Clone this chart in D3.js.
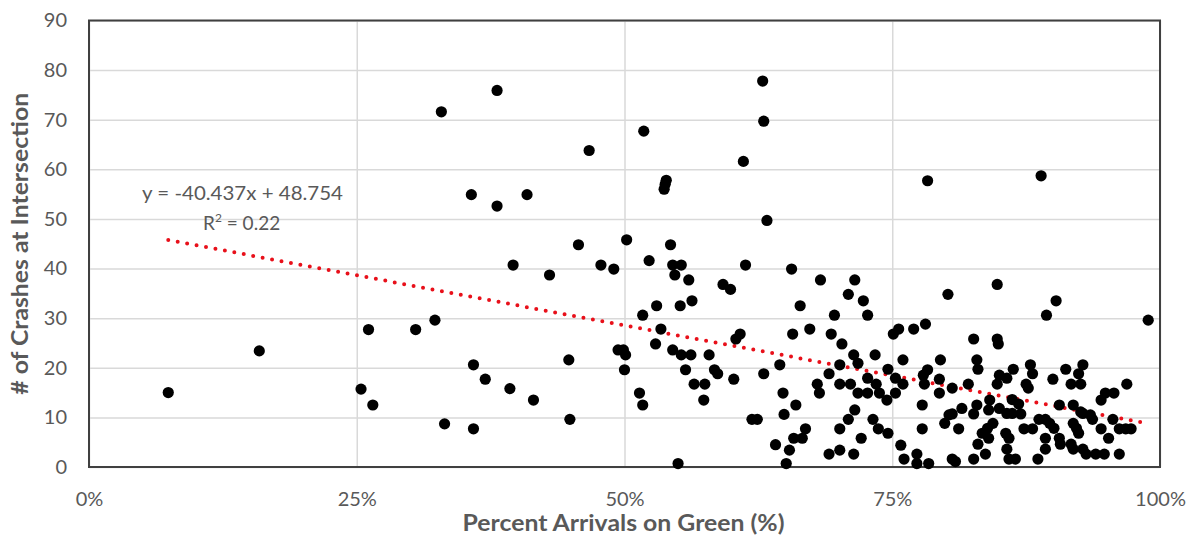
<!DOCTYPE html>
<html>
<head>
<meta charset="utf-8">
<script src="https://cdn.jsdelivr.net/npm/d3@7"></script>
<style>
  body { margin: 0; background: #fff; }
  text { font-family: Lato, "Open Sans", sans-serif; }
</style>
</head>
<body>
<script>
// percent arrivals on green (fraction) and crashes
const pctGreen = [
  0.074, 0.159, 0.261, 0.254, 0.265, 0.305, 0.323, 0.329, 0.332, 0.357,
  0.359, 0.359, 0.370, 0.381, 0.381, 0.393, 0.396, 0.409, 0.415, 0.430,
  0.448, 0.449, 0.457, 0.467, 0.478, 0.490, 0.494, 0.499, 0.501, 0.500,
  0.502, 0.514, 0.517, 0.517, 0.518, 0.523, 0.529, 0.530, 0.534, 0.537,
  0.538, 0.539, 0.543, 0.545, 0.545, 0.547, 0.550, 0.552, 0.553, 0.553,
  0.557, 0.560, 0.562, 0.563, 0.565, 0.574, 0.575, 0.579, 0.584, 0.587,
  0.592, 0.599, 0.602, 0.604, 0.608, 0.611, 0.613, 0.619, 0.624, 0.629,
  0.630, 0.630, 0.633, 0.641, 0.645, 0.648, 0.649, 0.651, 0.654, 0.656,
  0.657, 0.658, 0.660, 0.664, 0.666, 0.669,
  0.683, 0.715, 0.848, 0.709, 0.723, 0.802, 0.903, 0.696, 0.727, 0.894,
  0.989, 0.673, 0.693, 0.703, 0.751, 0.756, 0.770, 0.781, 0.783, 0.889,
  0.826, 0.848, 0.849, 0.714, 0.734, 0.718, 0.701, 0.691, 0.680, 0.682,
  0.701, 0.711, 0.727, 0.735, 0.718, 0.727, 0.738, 0.745, 0.746, 0.753,
  0.760, 0.760, 0.753, 0.779, 0.783, 0.780, 0.795, 0.794, 0.794, 0.806,
  0.821, 0.829, 0.830, 0.848, 0.850, 0.857, 0.863, 0.875, 0.877, 0.879,
  0.881, 0.900, 0.912, 0.917, 0.924, 0.926, 0.928, 0.945, 0.949, 0.957,
  0.969,
  0.691, 0.701, 0.701, 0.709, 0.715, 0.721, 0.714, 0.732, 0.737, 0.746,
  0.758, 0.761, 0.773, 0.773, 0.784, 0.778, 0.778, 0.799, 0.803, 0.806,
  0.812, 0.815, 0.806, 0.809, 0.826, 0.826, 0.829, 0.830, 0.837, 0.834,
  0.839, 0.840, 0.844, 0.841, 0.840, 0.850, 0.857, 0.862, 0.862, 0.868,
  0.870, 0.856, 0.859, 0.857, 0.859, 0.865, 0.873, 0.881, 0.886, 0.887,
  0.893, 0.897, 0.901, 0.893, 0.893, 0.906, 0.907, 0.906, 0.919, 0.919,
  0.922, 0.917, 0.919, 0.928, 0.931, 0.940, 0.948, 0.962, 0.924, 0.926,
  0.928, 0.935, 0.937, 0.945, 0.952, 0.956, 0.962, 0.968, 0.973
];
const crashes = [
  15, 23.4, 27.7, 15.7, 12.5, 27.7, 29.6, 71.6, 8.7, 54.9,
  20.6, 7.7, 17.7, 75.9, 52.6, 15.8, 40.7, 54.9, 13.5, 38.7,
  21.6, 9.6, 44.8, 63.8, 40.7, 39.9, 23.6, 23.6, 22.6, 19.6,
  45.8, 14.9, 12.5, 30.6, 67.7, 41.6, 24.8, 32.5, 27.8, 56.0,
  57.0, 57.8, 44.8, 40.7, 23.6, 38.7, 0.7, 32.5, 40.7, 22.6,
  19.6, 37.7, 22.6, 33.5, 16.7, 13.5, 16.7, 22.6, 19.6, 18.8,
  36.8, 35.8, 17.7, 25.8, 26.8, 61.6, 40.7, 9.6, 9.6, 77.8,
  69.7, 18.8, 49.7, 4.5, 20.6, 14.9, 10.6, 0.7, 3.4, 39.9,
  26.8, 5.8, 12.5, 32.5, 5.8, 7.7,
  37.7, 37.7, 36.8, 34.8, 33.5, 34.8, 33.5, 30.6, 30.6, 30.6,
  29.6, 27.8, 26.8, 24.8, 26.8, 27.8, 27.8, 28.8, 57.7, 58.7,
  25.8, 25.8, 24.8, 22.6, 22.6, 20.9, 20.6, 18.8, 16.7, 14.9,
  16.7, 16.7, 17.9, 16.7, 14.9, 14.9, 14.9, 13.5, 19.7, 17.9,
  21.6, 16.7, 14.9, 18.5, 19.6, 16.7, 21.6, 17.7, 14.9, 15.9,
  16.7, 21.6, 19.7, 16.7, 18.5, 17.9, 19.7, 16.7, 15.9, 20.6,
  18.8, 17.7, 19.7, 16.7, 18.8, 16.7, 20.6, 13.5, 14.9, 14.9,
  16.7,
  2.6, 3.4, 7.7, 9.6, 11.5, 5.8, 2.6, 9.6, 7.7, 6.8,
  4.4, 1.6, 2.6, 0.7, 0.7, 12.5, 7.7, 8.8, 10.5, 10.7,
  7.7, 11.8, 1.6, 1.1, 1.6, 10.7, 12.5, 4.6, 2.6, 6.8,
  7.8, 5.8, 8.8, 13.5, 11.5, 11.8, 10.8, 10.8, 13.6, 12.7,
  10.7, 6.8, 5.8, 3.6, 1.6, 1.6, 7.7, 7.7, 1.6, 9.6,
  9.6, 8.8, 7.8, 5.8, 3.6, 5.8, 4.6, 12.5, 12.5, 8.8,
  7.8, 4.6, 3.6, 3.6, 2.6, 2.6, 2.6, 2.6, 6.8, 11.1,
  10.8, 10.5, 9.6, 7.7, 5.8, 9.6, 7.7, 7.7, 7.7
];
const xTicks = [0, 0.25, 0.5, 0.75, 1];
const yTicks = [0, 10, 20, 30, 40, 50, 60, 70, 80, 90];
const trendSlope = -40.437;
const trendIntercept = 48.754;
const trendR2 = 0.22;

const width = 1193, height = 539;
const margin = { top: 20.5, right: 33, bottom: 72, left: 89 };
const innerW = width - margin.left - margin.right;
const innerH = height - margin.top - margin.bottom;

const points = pctGreen.map((p, i) => ({ p: p, c: crashes[i] }));

const x = d3.scaleLinear().domain([0, 1]).range([0, innerW]);
const y = d3.scaleLinear().domain([0, 90]).range([innerH, 0]);

const svg = d3.select("body").append("svg")
    .attr("width", width)
    .attr("height", height);

const g = svg.append("g")
    .attr("transform", `translate(${margin.left},${margin.top})`);

// gridlines + tick labels
const yAxis = g.append("g")
    .call(d3.axisLeft(y).tickValues(yTicks).tickSize(-innerW).tickPadding(22));
const xAxis = g.append("g")
    .attr("transform", `translate(0,${innerH})`)
    .call(d3.axisBottom(x).tickValues(xTicks).tickSize(-innerH)
        .tickPadding(25).tickFormat(d3.format(".0%")));

[yAxis, xAxis].forEach(a => {
    a.select(".domain").remove();
    a.selectAll(".tick line").attr("stroke", "#d9d9d9").attr("stroke-width", 1.5);
    a.selectAll(".tick text")
        .attr("fill", "#595959")
        .style("font-size", "20px")
        .style("font-family", "Lato, 'Open Sans', sans-serif");
});

// plot border
g.append("rect")
    .attr("width", innerW)
    .attr("height", innerH)
    .attr("fill", "none")
    .attr("stroke", "#404040")
    .attr("stroke-width", 2);

// trendline over the data range
const [xmin, xmax] = d3.extent(pctGreen);
g.append("path")
    .datum([xmin, xmax])
    .attr("fill", "none")
    .attr("stroke", "#e8101a")
    .attr("stroke-width", 4)
    .attr("stroke-linecap", "round")
    .attr("stroke-dasharray", "0 9.6")
    .attr("d", d3.line().x(d => x(d)).y(d => y(trendSlope * d + trendIntercept)));

// points
g.selectAll("circle.pt")
    .data(points)
    .join("circle")
    .attr("class", "pt")
    .attr("cx", d => x(d.p))
    .attr("cy", d => y(d.c))
    .attr("r", 5.6)
    .attr("fill", "#000");

// trendline label
const lab = g.append("text")
    .attr("fill", "#595959")
    .style("font-size", "19px");
lab.append("tspan")
    .attr("x", 53).attr("y", 179.5)
    .attr("textLength", 201)
    .attr("lengthAdjust", "spacingAndGlyphs")
    .text(`y = ${trendSlope}x + ${trendIntercept}`);
const r2 = lab.append("tspan")
    .attr("x", 114).attr("y", 209.5);
r2.append("tspan").text("R");
r2.append("tspan").attr("dy", -8).style("font-size", "12px").text("2");
r2.append("tspan").attr("dy", 8).text(` = ${trendR2}`);

// axis titles
svg.append("text")
    .attr("x", margin.left + innerW / 2 - 1)
    .attr("y", 531)
    .attr("text-anchor", "middle")
    .attr("fill", "#595959")
    .attr("textLength", 322)
    .attr("lengthAdjust", "spacingAndGlyphs")
    .style("font-size", "22px")
    .style("font-weight", "bold")
    .text("Percent Arrivals on Green (%)");

svg.append("text")
    .attr("transform", `translate(28,${margin.top + innerH / 2}) rotate(-90)`)
    .attr("text-anchor", "middle")
    .attr("fill", "#595959")
    .attr("textLength", 302)
    .attr("lengthAdjust", "spacingAndGlyphs")
    .style("font-size", "22px")
    .style("font-weight", "bold")
    .text("# of Crashes at Intersection");
</script>
</body>
</html>
